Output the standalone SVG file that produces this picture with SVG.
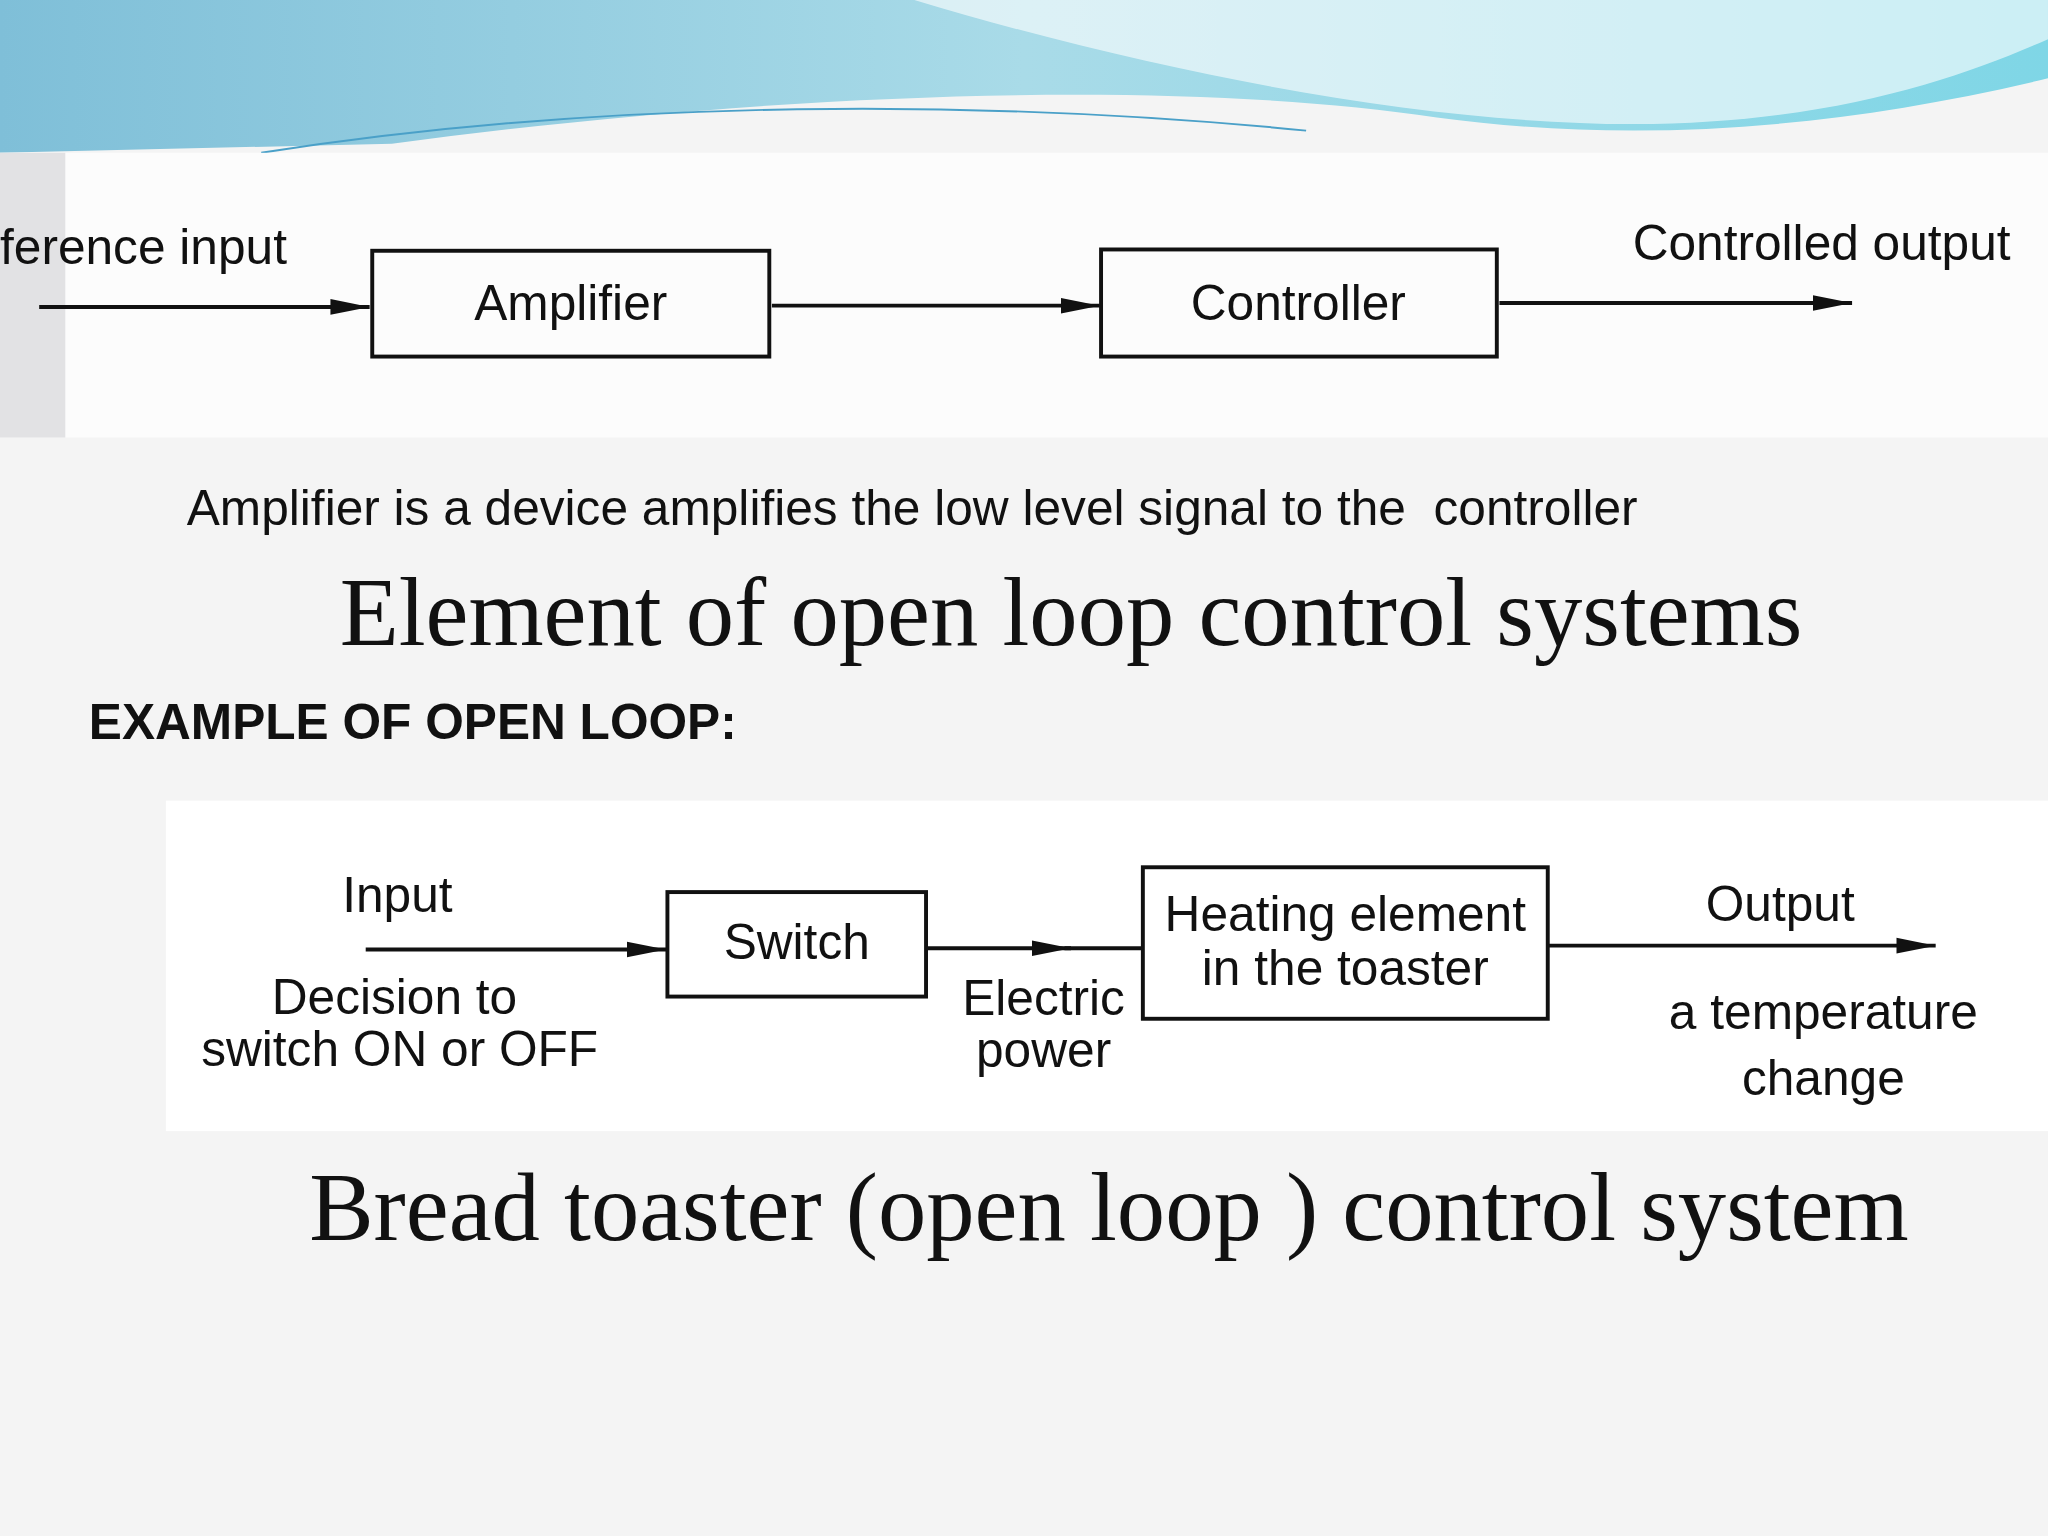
<svg xmlns="http://www.w3.org/2000/svg" width="2048" height="1536" viewBox="0 0 2048 1536">
<defs>
<linearGradient id="sky" x1="0" y1="0" x2="1" y2="0"><stop offset="0" stop-color="#7fbfd8"/><stop offset="0.5" stop-color="#a9dbe8"/><stop offset="1" stop-color="#7fd6e6"/></linearGradient>
<marker id="ah" viewBox="0 0 30 14" refX="30" refY="7" markerWidth="30" markerHeight="14" markerUnits="userSpaceOnUse" orient="auto"><path d="M0,1 L30,7 L0,13 Z" fill="#111"/></marker>
<style>
.box{fill:none;stroke:#111;stroke-width:3}
.ln{stroke:#111;stroke-width:3;fill:none;marker-end:url(#ah)}
.d{font-family:"Liberation Sans",Arial,sans-serif;font-size:38px;fill:#111}
.s{font-family:"Liberation Serif","Times New Roman",serif;font-size:74px;fill:#111}
</style>
</defs>
<g transform="scale(1.30612)">
<rect width="1568" height="1176" fill="#f4f4f4"/>
<path d="M0,0 H1568 V60 C1400,100 1250,110 1100,90 C900,60 600,70 300,110 L0,117 Z" fill="url(#sky)"/>
<path d="M700,0 C900,60 1100,95 1250,95 C1400,95 1500,60 1568,30 V0 Z" fill="#ffffff" opacity="0.6"/>
<path d="M200,117 C500,70 800,80 1000,100" stroke="#4aa0c8" stroke-width="1.5" fill="none"/>
<rect x="0" y="117" width="1568" height="218" fill="#fcfcfc"/>
<rect x="0" y="117" width="50" height="218" fill="#e2e2e4"/>
<rect x="127" y="613" width="1441" height="253" fill="#ffffff"/>
<g id="connectors">
<line class="ln" x1="30" y1="235" x2="283" y2="235"/>
<line class="ln" x1="591" y1="234" x2="842" y2="234"/>
<line class="ln" x1="1148" y1="232" x2="1418" y2="232"/>
<line class="ln" x1="280" y1="727" x2="510" y2="727"/>
<line class="ln" x1="709" y1="726" x2="820" y2="726"/>
<line x1="815" y1="726" x2="875" y2="726" stroke="#111" stroke-width="3"/>
<line class="ln" x1="1185" y1="724" x2="1482" y2="724"/>
</g>
<g id="amplifier"><rect class="box" x="285" y="192" width="304" height="81"/><text class="d" x="437" y="245" text-anchor="middle">Amplifier</text></g>
<g id="controller"><rect class="box" x="843" y="191" width="303" height="82"/><text class="d" x="994" y="245" text-anchor="middle">Controller</text></g>
<g id="switch"><rect class="box" x="511" y="683" width="198" height="80"/><text class="d" x="610" y="734" text-anchor="middle">Switch</text></g>
<g id="heating"><rect class="box" x="875" y="664" width="310" height="116"/><text class="d" x="1030" y="713" text-anchor="middle">Heating element</text><text class="d" x="1030" y="754" text-anchor="middle">in the toaster</text></g>
<text class="d" x="0" y="202">ference input</text>
<text class="d" x="1250" y="199">Controlled output</text>
<text class="d" x="262" y="698">Input</text>
<text class="d" x="302" y="776" text-anchor="middle">Decision to</text>
<text class="d" x="306" y="816" text-anchor="middle">switch ON or OFF</text>
<text class="d" x="799" y="777" text-anchor="middle">Electric</text>
<text class="d" x="799" y="817" text-anchor="middle">power</text>
<text class="d" x="1363" y="705" text-anchor="middle">Output</text>
<text class="d" x="1396" y="788" text-anchor="middle">a temperature</text>
<text class="d" x="1396" y="838" text-anchor="middle">change</text>
<text class="d" x="143" y="402" font-size="36" xml:space="preserve">Amplifier is a device amplifies the low level signal to the  controller</text>
<text class="s" x="820" y="494" text-anchor="middle">Element of open loop control systems</text>
<text class="d" x="68" y="566" font-size="39" font-weight="bold">EXAMPLE OF OPEN LOOP:</text>
<text class="s" x="849" y="949" text-anchor="middle">Bread toaster (open loop ) control system</text>
</g>
</svg>
